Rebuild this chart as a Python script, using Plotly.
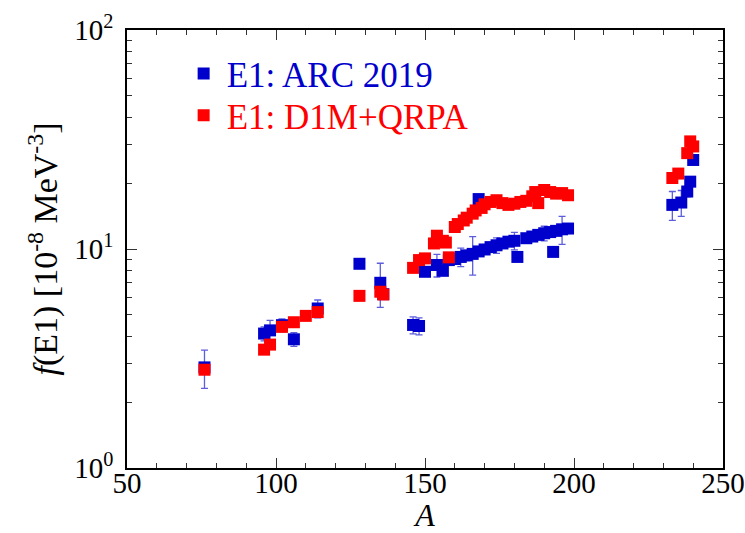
import plotly.graph_objects as go

# Photon strength f(E1) versus mass number A
arc_A = [76, 96, 98, 102, 106, 114, 128, 135, 136, 146, 148, 150, 154, 156, 158,
         160, 162, 164, 166, 168, 168, 170, 172, 174, 176, 178, 180, 181, 184, 186,
         188, 190, 192, 193, 194, 196, 198, 233, 236, 238, 239, 240]
arc_f = [2.88, 4.11, 4.25, 4.49, 3.87, 5.35, 8.56, 7.01, 6.22, 4.5, 4.45, 7.87, 8.45, 7.95, 8.9,
         9.0, 9.2, 9.35, 9.5, 16.9, 9.75, 9.95, 10.2, 10.4, 10.6, 10.8, 10.9, 9.2, 11.2, 11.4,
         11.6, 11.8, 11.95, 9.7, 12.1, 12.3, 12.4, 15.9, 16.3, 18.3, 20.3, 25.5]
arc_err = [0.57, 0.3, 0.47, 0.3, 0.28, 0.5, 0.3, 1.6, 0.3, 0.4, 0.4, 0.3, 1.0, 0.3, 0.3,
           0.5, 0.9, 0.5, 1.9, 0.4, 0.4, 0.4, 0.5, 0.85, 0.5, 0.5, 1.0, 0.3, 0.5, 0.5,
           0.5, 0.9, 0.5, 0.4, 0.5, 1.8, 0.5, 2.4, 2.2, 1.0, 0.8, 0.8]

qrpa_A = [76, 96, 98, 102, 106, 110, 114, 128, 135, 136, 146, 148, 150, 153, 154, 156,
          157, 158, 160, 161, 163, 164, 166, 167, 169, 170, 172, 174, 176, 178, 180, 182,
          184, 186, 187, 188, 190, 192, 194, 196, 198, 233, 235, 238, 239, 240]
qrpa_f = [2.81, 3.47, 3.66, 4.41, 4.63, 4.95, 5.15, 6.11, 6.38, 6.2, 8.2, 8.9, 9.06, 10.6, 11.5, 10.9,
          10.7, 9.16, 12.6, 13.0, 13.5, 13.9, 14.5, 15.0, 15.4, 16.0, 16.4, 16.7, 16.2, 15.9, 16.1, 16.4,
          16.6, 17.4, 18.2, 16.2, 18.6, 18.2, 17.9, 18.0, 17.6, 21.1, 22.1, 27.4, 31.0, 29.4]

x_ticks = [50, 100, 150, 200, 250]
y_ticks = [1, 10, 100]
y_tick_text = ["10<sup>0</sup>", "10<sup>1</sup>", "10<sup>2</sup>"]
y_minor = [2, 3, 4, 5, 6, 7, 8, 9, 20, 30, 40, 50, 60, 70, 80, 90]

BLUE = "#0000cc"
RED = "#ff0000"
FONT = "Liberation Serif"

fig = go.Figure()
fig.add_trace(go.Scatter(
    x=arc_A, y=arc_f, mode="markers", legend="legend",
    name=f"<span style='color:{BLUE}'>E1: ARC 2019</span>",
    marker=dict(symbol="square", size=12, color=BLUE),
    error_y=dict(type="data", array=arc_err, visible=True,
                 color="rgba(40,40,210,0.75)", thickness=1.3, width=3.5),
))
fig.add_trace(go.Scatter(
    x=qrpa_A, y=qrpa_f, mode="markers", legend="legend2",
    name=f"<span style='color:{RED}'>E1: D1M+QRPA</span>",
    marker=dict(symbol="square", size=12, color=RED),
))

axis_common = dict(
    showline=True, linecolor="black", linewidth=1.5, mirror="allticks",
    ticks="inside", ticklen=10, tickwidth=1.2, tickcolor="#333",
    showgrid=False, zeroline=False, automargin=False,
    tickfont=dict(family=FONT, size=29, color="black"),
)

fig.update_xaxes(
    range=[50, 250], tickvals=x_ticks, ticklabelstandoff=-12,
    minor=dict(ticks="inside", ticklen=5, tickwidth=1.2, tickcolor="#333", dtick=10),
    title=dict(text="<i>A</i>", font=dict(family=FONT, size=32, color="black"), standoff=0),
    **axis_common,
)
fig.update_yaxes(
    type="log", range=[0, 2], tickvals=y_ticks, ticktext=y_tick_text, ticklabelstandoff=6,
    minor=dict(ticks="inside", ticklen=5, tickwidth=1.2, tickcolor="#333", tickvals=y_minor),
    title=dict(text="<i>f</i>(E1) [10<sup>-8</sup> MeV<sup>-3</sup>]",
               font=dict(family=FONT, size=34, color="black"), standoff=6),
    **axis_common,
)

legend_common = dict(xanchor="left", yanchor="middle", bgcolor="rgba(0,0,0,0)",
                     borderwidth=0, itemwidth=36, font=dict(family=FONT, size=35))

fig.update_layout(
    width=745, height=533,
    margin=dict(l=127, r=22, t=30, b=65),
    paper_bgcolor="white", plot_bgcolor="white",
    showlegend=True,
    legend=dict(x=0.09, y=0.9, **legend_common),
    legend2=dict(x=0.09, y=0.805, **legend_common),
)

fig.write_html("out.html")
